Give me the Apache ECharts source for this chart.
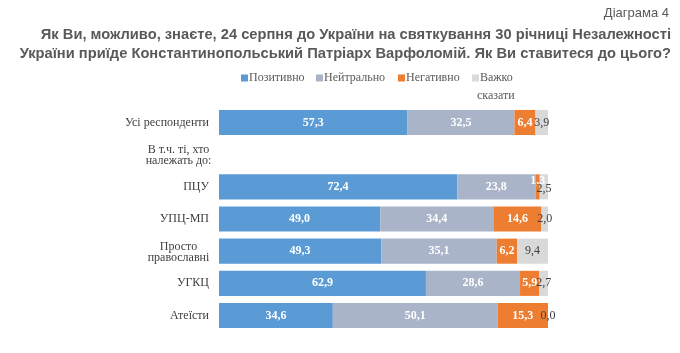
<!DOCTYPE html>
<html>
<head>
<meta charset="utf-8">
<script src="https://cdn.jsdelivr.net/npm/echarts@6/dist/echarts.min.js"></script>
<style>html,body{margin:0;padding:0;background:#fff}#c{width:680px;height:353px}</style>
</head>
<body>
<div id="c"></div>
<script>
const categories = ['Усі респонденти', 'В т.ч. ті, хто\nналежать до:', 'ПЦУ', 'УПЦ-МП', 'Просто\nправославні', 'УГКЦ', 'Атеїсти'];
const seriesNames = ['Позитивно', 'Нейтрально', 'Негативно', 'Важко сказати'];
const positive = [57.3, null, 72.4, 49.0, 49.3, 62.9, 34.6];
const neutral  = [32.5, null, 23.8, 34.4, 35.1, 28.6, 50.1];
const negative = [6.4, null, 1.3, 14.6, 6.2, 5.9, 15.3];
const hard     = [3.9, null, 2.5, 2.0, 9.4, 2.7, 0.0];
const titleLines = [
  'Як Ви, можливо, знаєте, 24 серпня до України на святкування 30 річниці Незалежності',
  'України приїде Константинопольський Патріарх Варфоломій. Як Ви ставитеся до цього?'
];

const values = [positive, neutral, negative, hard];
const colors = ['#5B9BD5', '#A9B4C8', '#ED7D31', '#D9D9D9'];
const serif = 'Liberation Serif';

const chart = echarts.init(document.getElementById('c'));
const fmt = p => p.value == null ? '' : p.value.toFixed(1).replace('.', ',');

const series = values.map((arr, si) => ({
  name: seriesNames[si],
  type: 'bar',
  stack: 'total',
  barCategoryGap: '22%',
  itemStyle: { color: colors[si] },
  label: {
    show: true,
    position: 'inside',
    formatter: fmt,
    fontFamily: serif,
    fontSize: 12,
    fontWeight: si < 3 ? 'bold' : 'normal',
    color: si < 3 ? '#ffffff' : '#404040'
  },
  data: arr.map((v, ci) => {
    if (si === 2 && categories[ci] === 'ПЦУ') {
      return { value: v, label: { offset: [0, -6] } };
    }
    if (si === 3 && categories[ci] === 'ПЦУ') {
      return { value: v, label: { offset: [0, 2] } };
    }
    return v;
  })
}));

const legendLeft = [241, 316, 398, 472];
const legends = seriesNames.map((n, i) => ({
  data: [n],
  left: legendLeft[i],
  top: 72,
  padding: 0,
  itemWidth: 7,
  itemHeight: 7,
  itemGap: 0,
  icon: 'rect',
  selectedMode: false,
  formatter: i === 3 ? 'Важко' : '{name}',
  textStyle: { fontFamily: serif, fontSize: 12, color: '#595959', padding: [0, 0, 0, -4] }
}));

const titleStyle = { fontFamily: 'Liberation Sans', fontSize: 14.7, fontWeight: 'bold', fill: '#595959' };

chart.setOption({
  animation: false,
  title: [
    { text: 'Діаграма 4', right: 6, top: 2, textStyle: { fontFamily: 'Liberation Sans', fontSize: 13, fontWeight: 'normal', color: '#595959' } }
  ],
  legend: legends,
  graphic: [
    { type: 'text', right: 9, top: 27, style: Object.assign({ text: titleLines[0] }, titleStyle) },
    { type: 'text', right: 9, top: 46, style: Object.assign({ text: titleLines[1] }, titleStyle) },
    { type: 'text', left: 477, top: 90, style: { text: 'сказати', fontFamily: serif, fontSize: 12, fill: '#595959' } }
  ],
  grid: { left: 219, right: 132, top: 106.4, bottom: 21.4, containLabel: false },
  xAxis: { type: 'value', min: 0, max: 100, show: false },
  yAxis: {
    type: 'category',
    inverse: true,
    data: categories,
    axisLine: { show: false },
    axisTick: { show: false },
    axisLabel: {
      margin: 10,
      fontFamily: serif,
      fontSize: 12,
      color: '#404040',
      lineHeight: 13,
      formatter: v => {
        if (v.indexOf('\n') < 0) return v;
        const parts = v.split('\n');
        return '{a|' + parts[0] + '}\n{c|' + parts[1] + '}';
      },
      rich: {
        a: { width: 61, align: 'center', fontFamily: serif, fontSize: 12, color: '#404040', lineHeight: 13, padding: [4, 0, 0, 0] },
        c: { width: 61, align: 'center', fontFamily: serif, fontSize: 12, color: '#404040', lineHeight: 13 }
      }
    }
  },
  series: series
});
</script>
</body>
</html>
